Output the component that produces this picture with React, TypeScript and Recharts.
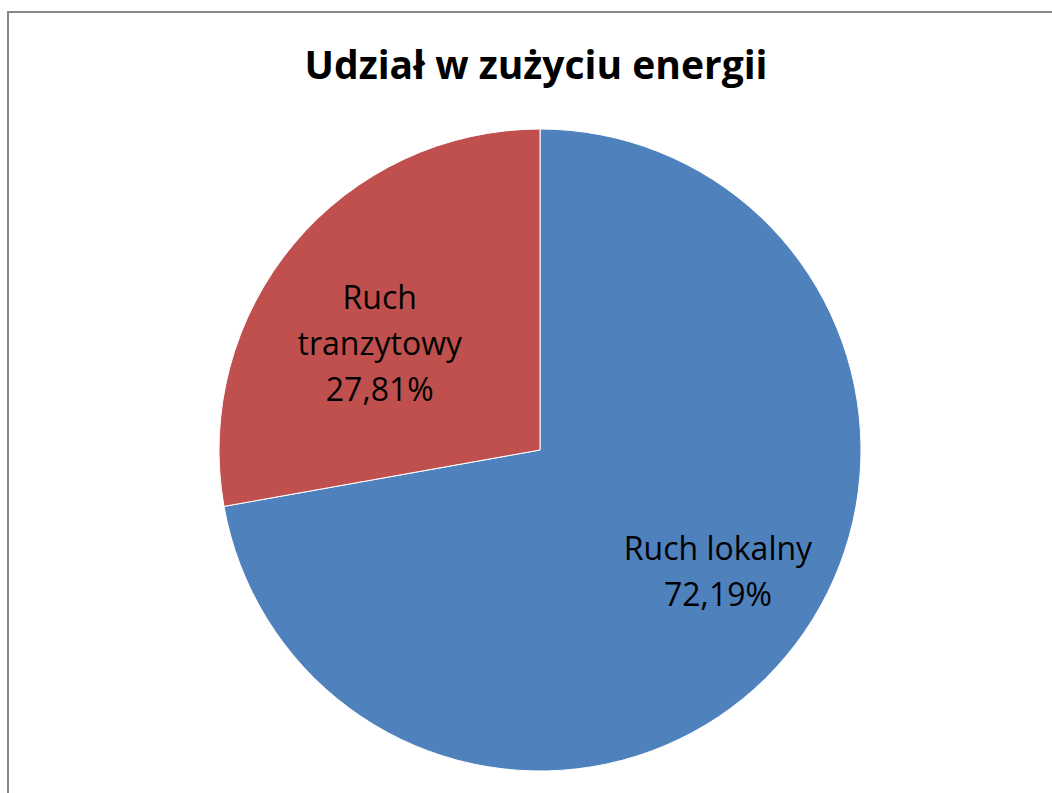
import { Cell, Pie, PieChart } from "recharts";

const categories = ["Ruch lokalny", "Ruch tranzytowy"];
const shares = [72.19, 27.81];
const labelLines = [["Ruch lokalny"], ["Ruch", "tranzytowy"]];
const sliceColors = ["#4F81BD", "#C0504D"];

const data = categories.map((name, i) => ({ name, value: shares[i] }));

const FONT = "'Open Sans', sans-serif";

const fmtPct = (v: number) => `${v.toFixed(2).replace(".", ",")}%`;

// Excel "best fit" puts the label a bit off the mid angle, deeper for bigger slices
function SliceLabel(props: any) {
  const { cx, cy, midAngle, outerRadius, index, value, percent } = props;
  const a = ((midAngle + 6) * Math.PI) / 180;
  const r = outerRadius * (0.56 + 0.15 * percent);
  const x = cx + r * Math.cos(a);
  const y = cy - r * Math.sin(a);
  const lines = [...labelLines[index], fmtPct(value)];
  const lh = 46;
  const y0 = y - ((lines.length - 1) * lh) / 2;
  return (
    <text
      x={x}
      y={y0}
      textAnchor="middle"
      dominantBaseline="central"
      fill="#000"
      fontFamily={FONT}
      fontSize={32}
    >
      {lines.map((l, i) => (
        <tspan key={i} x={x} y={y0 + i * lh}>
          {l}
        </tspan>
      ))}
    </text>
  );
}

export default function App() {
  return (
    <div style={{ position: "absolute", left: 0, top: 0, width: 1052, height: 793, background: "#fff" }}>
      <div
        style={{
          position: "absolute",
          left: 7,
          top: 11,
          width: 1045,
          height: 782,
          borderLeft: "2px solid #878787",
          borderTop: "2px solid #878787",
          boxSizing: "border-box",
        }}
      >
        <PieChart width={1043} height={780} margin={{ top: 0, right: 0, bottom: 0, left: 0 }}>
          <Pie
            data={data}
            dataKey="value"
            nameKey="name"
            cx={531}
            cy={437}
            outerRadius={321}
            startAngle={90}
            endAngle={-270}
            stroke="#fff"
            strokeWidth={1}
            label={SliceLabel}
            labelLine={false}
            isAnimationActive={false}
          >
            {data.map((d, i) => (
              <Cell key={d.name} fill={sliceColors[i]} />
            ))}
          </Pie>
        </PieChart>
      </div>
      <div
        style={{
          position: "absolute",
          left: 0,
          top: 37,
          width: 1072,
          textAlign: "center",
          fontFamily: FONT,
          fontWeight: 700,
          fontSize: 39,
          color: "#000",
          lineHeight: "54px",
        }}
      >
        Udział w zużyciu energii
      </div>
    </div>
  );
}
